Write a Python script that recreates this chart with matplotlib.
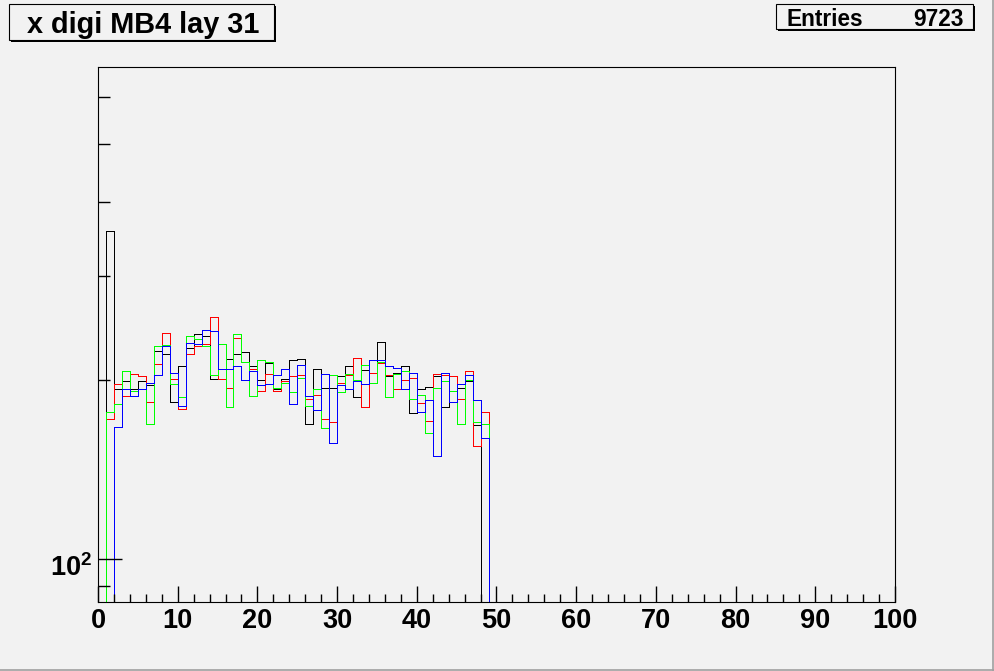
import numpy as np
import matplotlib
matplotlib.use('Agg')
import matplotlib.pyplot as plt
from matplotlib.patches import Rectangle
from matplotlib.lines import Line2D
from matplotlib.transforms import ScaledTranslation
from matplotlib.ticker import FixedLocator, FixedFormatter, MultipleLocator, NullFormatter

plt.rcParams['font.family'] = ['Liberation Sans', 'DejaVu Sans']
plt.rcParams['font.weight'] = 'bold'
plt.rcParams['mathtext.fontset'] = 'custom'
plt.rcParams['mathtext.bf'] = 'Liberation Sans:bold'
plt.rcParams['mathtext.rm'] = 'Liberation Sans:bold'

# histogram contents, bins of width 1 starting at x = 0 (bins after 48 are empty)
bin_edges = np.arange(0, 101, 1)
black_counts = [0, 357, 193, 199, 193, 199, 196, 224, 221, 184,
                211, 227, 239, 237, 201, 209, 217, 221, 223, 211,
                200, 214, 193, 201, 216, 217, 169, 209, 194, 194,
                203, 211, 187, 208, 206, 232, 203, 206, 211, 176,
                193, 195, 203, 180, 192, 194, 199, 168, 0]
red_counts = [0, 172, 197, 188, 205, 203, 184, 213, 240, 201,
              179, 221, 228, 230, 256, 201, 194, 236, 215, 209,
              192, 205, 192, 199, 203, 204, 186, 189, 172, 170,
              198, 204, 218, 180, 206, 214, 204, 193, 200, 202,
              183, 171, 205, 204, 203, 186, 207, 155, 177]
green_counts = [0, 177, 182, 207, 192, 193, 169, 228, 229, 197,
                187, 237, 235, 228, 204, 230, 180, 239, 215, 188,
                216, 215, 194, 198, 191, 202, 181, 193, 166, 204,
                191, 205, 200, 212, 198, 215, 187, 205, 207, 186,
                189, 163, 194, 199, 192, 169, 200, 170, 169]
blue_counts = [0, 0, 167, 193, 188, 193, 198, 204, 228, 206,
               181, 231, 230, 243, 242, 209, 209, 211, 200, 207,
               196, 197, 204, 209, 182, 212, 188, 178, 205, 157,
               196, 193, 199, 197, 216, 216, 211, 210, 193, 206,
               177, 185, 149, 206, 184, 197, 204, 185, 160]
entries = 9723

W, H = 995, 671
bg = '#f2f2f2'
fig = plt.figure(figsize=(W / 100, H / 100), dpi=100, facecolor=bg)
ax = fig.add_axes([98 / W, 1 - 602 / H, (895 - 98) / W, (602 - 67) / H])
ax.set_facecolor(bg)

def full(counts):
    c = np.zeros(100)
    c[:len(counts)] = counts
    return c

for counts, col in [(black_counts, 'black'), (red_counts, '#ff0000'),
                    (green_counts, '#00ff00'), (blue_counts, '#0000ff')]:
    ax.stairs(full(counts), bin_edges, color=col, lw=0.6, antialiased=False)

ax.set_yscale('log')
ax.set_xlim(0, 100)
ax.set_ylim(84.5, 675)

ax.xaxis.set_major_locator(MultipleLocator(10))
ax.xaxis.set_minor_locator(MultipleLocator(2))
ax.yaxis.set_major_locator(FixedLocator([100]))
ax.yaxis.set_major_formatter(FixedFormatter([r'$\mathbf{10^{2}}$']))
ax.yaxis.set_minor_locator(FixedLocator([90, 200, 300, 400, 500, 600]))
ax.yaxis.set_minor_formatter(NullFormatter())

ax.tick_params(axis='x', which='major', direction='in', length=11.5, width=1, labelsize=19.5, pad=4)
ax.tick_params(axis='x', which='minor', direction='in', length=5.8, width=1)
ax.tick_params(axis='y', which='major', direction='in', length=17, width=1, labelsize=19.5, pad=4)
ax.tick_params(axis='y', which='minor', direction='in', length=8.6, width=1)
for lab in ax.get_xticklabels():
    lab.set_fontweight('bold')
for lab in ax.get_yticklabels():
    lab.set_transform(lab.get_transform() + ScaledTranslation(0, -0.06, fig.dpi_scale_trans))
for sp in ax.spines.values():
    sp.set_linewidth(0.8)

def px_rect(x0, y0, x1, y1, **kw):
    return Rectangle((x0 / W, 1 - y1 / H), (x1 - x0) / W, (y1 - y0) / H,
                     transform=fig.transFigure, **kw)

# title box with shadow
fig.add_artist(px_rect(11, 6, 276, 41.5, facecolor='black', edgecolor='none'))
fig.add_artist(px_rect(9, 4, 274, 39.5, facecolor=bg, edgecolor='black', lw=0.8))
fig.text(143 / W, 1 - 33 / H, 'x digi MB4 lay 31', ha='center', va='baseline',
         fontsize=20.8, fontweight='bold')

# stats box with shadow
fig.add_artist(px_rect(778, 6, 975, 31, facecolor='black', edgecolor='none'))
fig.add_artist(px_rect(776, 4, 973, 29, facecolor=bg, edgecolor='black', lw=0.8))
fig.text(787 / W, 1 - 26 / H, 'Entries', ha='left', va='baseline',
         fontsize=16.3, fontweight='bold')
fig.text(964 / W, 1 - 26 / H, str(entries), ha='right', va='baseline',
         fontsize=16.3, fontweight='bold')

# canvas border
fig.add_artist(Line2D([993.5 / W, 993.5 / W], [0, 1], transform=fig.transFigure, color='#a0a0a0', lw=1.2))
fig.add_artist(Line2D([0, 1], [1.5 / H, 1.5 / H], transform=fig.transFigure, color='#a0a0a0', lw=1.2))

fig.savefig('out.png', dpi=100, facecolor=bg)
